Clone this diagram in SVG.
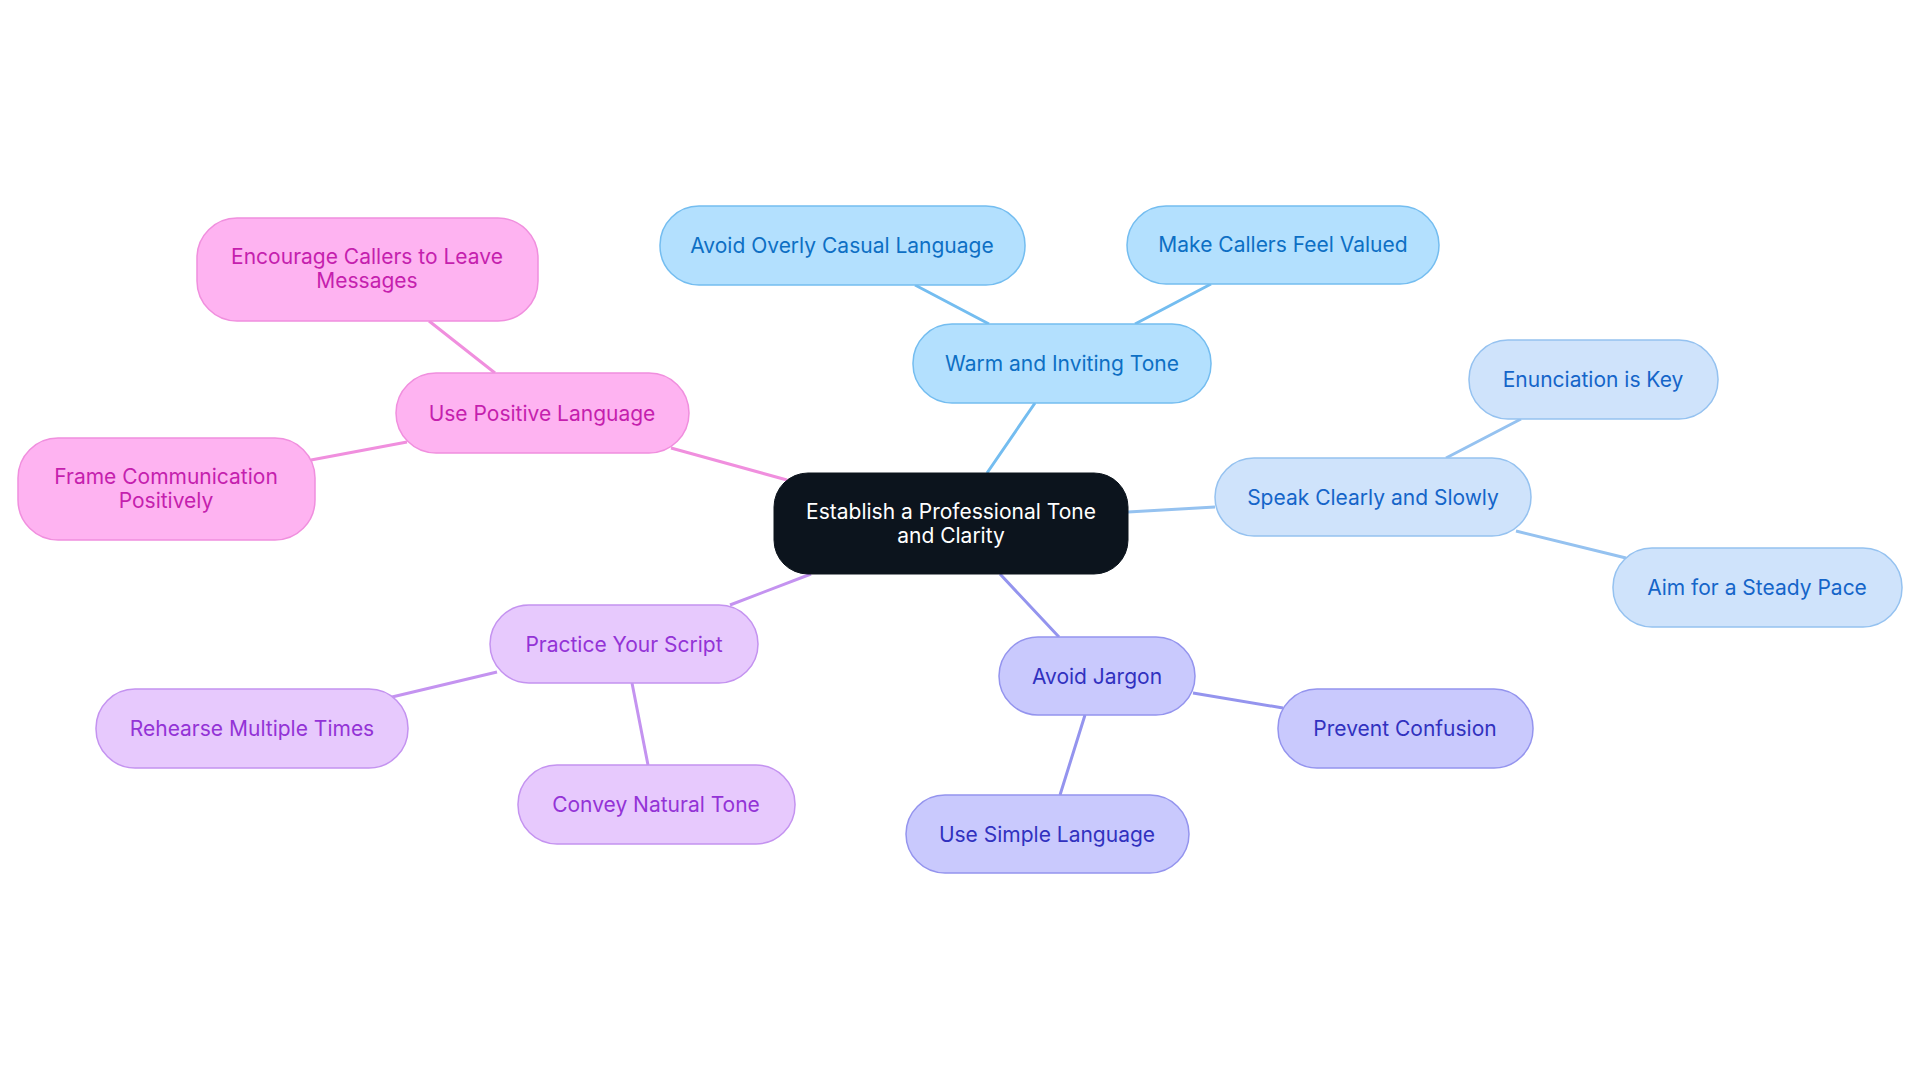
<svg xmlns="http://www.w3.org/2000/svg" width="1920" height="1083" viewBox="0 0 1920 1083">
<style>
text{font-family:Inter,"Noto Sans","Liberation Sans",sans-serif;font-size:21px;text-anchor:middle;dominant-baseline:central}
.e{stroke-width:3;fill:none}
.b rect{fill:#b3e0fe;stroke:#74bdf0;stroke-width:1.5}.b text{fill:#0d6fc4}
.l rect{fill:#cfe3fb;stroke:#95c2f0;stroke-width:1.5}.l text{fill:#1565c9}
.j rect{fill:#c9c9fd;stroke:#9494ee;stroke-width:1.5}.j text{fill:#3131bf}
.p rect{fill:#e7c9fd;stroke:#c493f0;stroke-width:1.5}.p text{fill:#9333d6}
.k rect{fill:#feb3f1;stroke:#f08fde;stroke-width:1.5}.k text{fill:#c51fae}
</style>
<rect width="1920" height="1083" fill="#fff"/>
<g id="connectors">
<path class="e" stroke="#74bdf0" d="M987 473L1035 403M989 324L915 285M1135 324L1211 284"/>
<path class="e" stroke="#95c2f0" d="M1128 512L1215 507M1446 458L1521 419M1516 531L1626 558"/>
<path class="e" stroke="#9494ee" d="M1000 574L1059 637M1193 693L1283 708M1085 715L1060 795"/>
<path class="e" stroke="#c493f0" d="M811 574L730 605M497 672L392 697M632 683L648 765"/>
<path class="e" stroke="#f08fde" d="M787 480L671 448M495 373L429 321M407 442L311 460"/>
</g>
<g id="center"><rect x="774" y="473" width="354" height="101" rx="34" fill="#0c141d" stroke="#0c141d"/><text x="951" y="511" fill="#fff">Establish a Professional Tone</text><text x="951" y="535" fill="#fff">and Clarity</text></g>
<g id="warm" class="b"><rect x="913" y="324" width="298" height="79" rx="39"/><text x="1062" y="363">Warm and Inviting Tone</text></g>
<g id="casual" class="b"><rect x="660" y="206" width="365" height="79" rx="39"/><text x="842" y="245">Avoid Overly Casual Language</text></g>
<g id="valued" class="b"><rect x="1127" y="206" width="312" height="78" rx="39"/><text x="1283" y="244">Make Callers Feel Valued</text></g>
<g id="speak" class="l"><rect x="1215" y="458" width="316" height="78" rx="39"/><text x="1373" y="497">Speak Clearly and Slowly</text></g>
<g id="enun" class="l"><rect x="1469" y="340" width="249" height="79" rx="39"/><text x="1593" y="379">Enunciation is Key</text></g>
<g id="aim" class="l"><rect x="1613" y="548" width="289" height="79" rx="39"/><text x="1757" y="587">Aim for a Steady Pace</text></g>
<g id="jargon" class="j"><rect x="999" y="637" width="196" height="78" rx="39"/><text x="1097" y="676">Avoid Jargon</text></g>
<g id="prevent" class="j"><rect x="1278" y="689" width="255" height="79" rx="39"/><text x="1405" y="728">Prevent Confusion</text></g>
<g id="simple" class="j"><rect x="906" y="795" width="283" height="78" rx="39"/><text x="1047" y="834">Use Simple Language</text></g>
<g id="practice" class="p"><rect x="490" y="605" width="268" height="78" rx="39"/><text x="624" y="644">Practice Your Script</text></g>
<g id="rehearse" class="p"><rect x="96" y="689" width="312" height="79" rx="39"/><text x="252" y="728">Rehearse Multiple Times</text></g>
<g id="convey" class="p"><rect x="518" y="765" width="277" height="79" rx="39"/><text x="656" y="804">Convey Natural Tone</text></g>
<g id="positive" class="k"><rect x="396" y="373" width="293" height="80" rx="40"/><text x="542" y="413">Use Positive Language</text></g>
<g id="encourage" class="k"><rect x="197" y="218" width="341" height="103" rx="40"/><text x="367" y="256">Encourage Callers to Leave</text><text x="367" y="280">Messages</text></g>
<g id="frame" class="k"><rect x="18" y="438" width="297" height="102" rx="40"/><text x="166" y="476">Frame Communication</text><text x="166" y="500">Positively</text></g>
</svg>
